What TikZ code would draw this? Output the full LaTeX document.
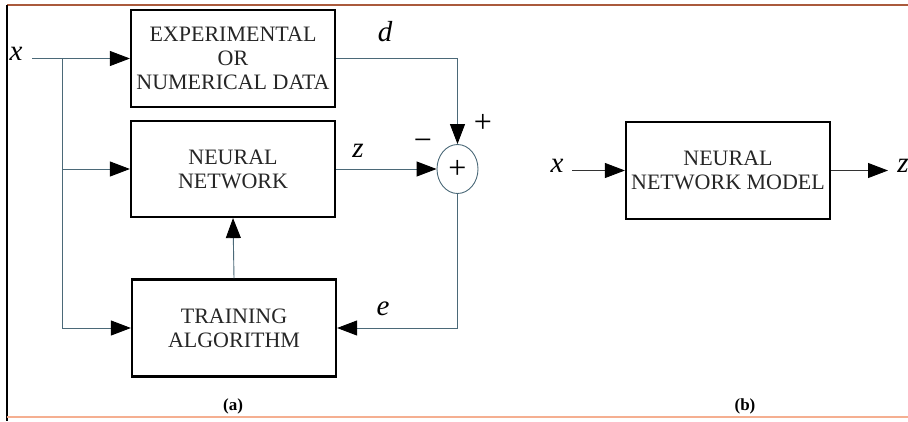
\documentclass[tikz,border=0pt]{standalone}
\usepackage{fontspec}
\setmainfont{Liberation Serif}
\usetikzlibrary{arrows.meta,shapes.geometric}
\definecolor{wirec}{RGB}{75,105,120}
\definecolor{framec}{RGB}{170,90,60}
\definecolor{rulec}{RGB}{245,175,145}

\begin{document}
\begin{tikzpicture}[x=1pt,y=1pt,
    blk/.style={draw,line width=2.2pt,minimum width=204pt,minimum height=97pt,
        align=center,text=black!85,font=\fontsize{22}{24}\selectfont},
    wire/.style={wirec,line width=0.9pt},
    tip/.style={-{Triangle[length=20pt,width=15pt,color=black]}},
    lbl/.style={font=\fontsize{29}{29}\selectfont\itshape},
    sgn/.style={font=\fontsize{32}{32}\selectfont}]
    \useasboundingbox (0,0) rectangle (908,-421);
    % frame
    \draw[framec,line width=1.2pt] (7,-5) -- (908,-5);
    \draw[line width=1.2pt] (7,-5) -- (7,-421);
    \draw[rulec,line width=1.5pt] (7,-417) -- (908,-417);

    % (a) training set-up
    \node[blk] (data) at (233,-58.5) {EXPERIMENTAL\\OR\\NUMERICAL DATA};
    \node[blk,minimum height=96pt] (nn) at (233,-169) {NEURAL\\NETWORK};
    \node[blk] (train) at (234,-328) {TRAINING\\ALGORITHM};
    \node[draw,wirec,ellipse,line width=0.9pt,minimum width=41pt,minimum height=49pt,
        inner sep=0pt,text=black,font=\fontsize{32}{32}\selectfont] (sum) at (457.5,-169) {+};

    \node[lbl] (xa) at (16,-54) {x};
    \coordinate (xin) at (32,-58.5);
    \coordinate (br) at (62,-58.5);
    \draw[wire,tip] (xin) -- (data.west);
    \draw[wire,tip] (br) |- (nn.west);
    \draw[wire,tip] (br) |- (train.west);
    \draw[wire,tip] (data.east) -| (sum.north);
    \draw[wire,tip] (nn.east) -- (sum.west);
    \draw[wire,tip] (sum.south) |- (train.east);
    \draw[wire,tip] (train.north) -- (nn.south);

    \node[lbl] (d) at (385,-32) {d};
    \node[lbl] (z) at (358,-151) {z};
    \node[lbl] (e) at (383,-309) {e};
    \node[sgn] (minus) at (423,-145) {\textminus};
    \node[sgn] (plus) at (483,-123) {+};
    \node[font=\bfseries\fontsize{17}{17}\selectfont] (capa) at (233,-406) {(a)};

    % (b) trained model
    \node[blk] (model) at (728,-170.5) {NEURAL\\NETWORK MODEL};
    \node[lbl] (xb) at (557,-166) {x};
    \coordinate (xin2) at (572,-170.5);
    \coordinate (zout) at (888,-170.5);
    \node[lbl] (zb) at (903,-166) {z};
    \draw[line width=0.9pt,black!80,tip] (xin2) -- (model.west);
    \draw[line width=0.9pt,black!80,tip] (model.east) -- (zout);
    \node[font=\bfseries\fontsize{17}{17}\selectfont] (capb) at (745,-406) {(b)};
\end{tikzpicture}
\end{document}
